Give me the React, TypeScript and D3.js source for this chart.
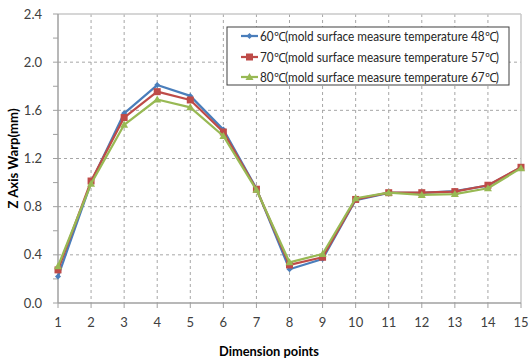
import React from "react";
import * as d3 from "d3";

const categories = [1, 2, 3, 4, 5, 6, 7, 8, 9, 10, 11, 12, 13, 14, 15];
const series60 = [0.22, 1.0, 1.575, 1.81, 1.72, 1.44, 0.95, 0.28, 0.365, 0.855, 0.915, 0.915, 0.93, 0.975, 1.125];
const series70 = [0.275, 1.013, 1.54, 1.755, 1.686, 1.42, 0.945, 0.316, 0.38, 0.86, 0.916, 0.916, 0.925, 0.978, 1.127];
const series80 = [0.305, 0.99, 1.48, 1.69, 1.625, 1.387, 0.94, 0.338, 0.407, 0.87, 0.916, 0.897, 0.905, 0.953, 1.12];
const yTicks = [0.0, 0.4, 0.8, 1.2, 1.6, 2.0, 2.4];
const yMinorTicks = [0.2, 0.6, 1.0, 1.4, 1.8, 2.2];
const legendLabels = [
  "60℃(mold surface measure temperature 48℃)",
  "70℃(mold surface measure temperature 57℃)",
  "80℃(mold surface measure temperature 67℃)",
];
const xTitle = "Dimension points";
const yTitle = "Z Axis Warp(mm)";

const W = 529;
const H = 361;
const L = 58;
const R = 521;
const T = 14;
const B = 303;
const FONT = "Lato, 'Open Sans', sans-serif";

const colors = ["#4A7EBB", "#BE4B48", "#98B954"];
const seriesList = [series60, series70, series80];

function Marker({ kind, x, y, color }: { kind: number; x: number; y: number; color: string }) {
  if (kind === 0) {
    const s = 3;
    return <path d={`M${x},${y - s}L${x + s},${y}L${x},${y + s}L${x - s},${y}Z`} fill={color} />;
  }
  if (kind === 1) {
    return <rect x={x - 3.5} y={y - 3.5} width={7} height={7} fill={color} />;
  }
  const s = 4;
  return <path d={`M${x},${y - s}L${x + s},${y + s * 0.75}L${x - s},${y + s * 0.75}Z`} fill={color} />;
}

export default function App() {
  const x = d3.scaleLinear().domain([1, 15]).range([L, R]);
  const y = d3.scaleLinear().domain([0, 2.4]).range([B, T]);
  const line = d3
    .line<number>()
    .x((_, i) => x(categories[i]))
    .y((d) => y(d));

  const lx = 227;
  const ly = 27;
  const lw = 282;
  const lh = 58;
  const rowY = [36, 57, 77];

  return (
    <svg
      width={W}
      height={H}
      style={{ position: "absolute", left: 0, top: 0, background: "#fff" }}
      fontFamily={FONT}
    >
      {/* grid */}
      {yTicks.slice(1, -1).map((t) => (
        <line key={"gy" + t} x1={L} x2={R} y1={y(t)} y2={y(t)} stroke="#A6A6A6" strokeWidth={1} strokeDasharray="3,3" />
      ))}
      {categories.slice(1, -1).map((c) => (
        <line key={"gx" + c} x1={x(c)} x2={x(c)} y1={T} y2={B} stroke="#A6A6A6" strokeWidth={1} strokeDasharray="3,3" />
      ))}
      {/* border */}
      <line x1={L} x2={R} y1={T} y2={T} stroke="#C8C8C8" strokeWidth={1.5} />
      <line x1={R} x2={R} y1={T} y2={B} stroke="#C8C8C8" strokeWidth={1.5} />
      {/* axes */}
      <line x1={L} x2={L} y1={T} y2={B} stroke="#A0A0A0" strokeWidth={1.5} />
      <line x1={L} x2={R} y1={B} y2={B} stroke="#A0A0A0" strokeWidth={1.5} />
      {yTicks.map((t) => (
        <line key={"ty" + t} x1={L - 5} x2={L} y1={y(t)} y2={y(t)} stroke="#A0A0A0" strokeWidth={1} />
      ))}
      {yMinorTicks.map((t) => (
        <line key={"tm" + t} x1={L - 5} x2={L} y1={y(t)} y2={y(t)} stroke="#A0A0A0" strokeWidth={1} />
      ))}
      {categories.map((c) => (
        <line key={"tx" + c} x1={x(c)} x2={x(c)} y1={B} y2={B + 5} stroke="#A0A0A0" strokeWidth={1} />
      ))}
      {yTicks.map((t) => (
        <text key={"ly" + t} x={42} y={y(t)} dy="0.35em" textAnchor="end" fontSize={13} fill="#404040">
          {t.toFixed(1)}
        </text>
      ))}
      {categories.map((c) => (
        <text key={"lx" + c} x={x(c)} y={327} textAnchor="middle" fontSize={13} fill="#404040">
          {c}
        </text>
      ))}
      {/* series */}
      {seriesList.map((s, k) => (
        <g key={"s" + k}>
          <path d={line(s) || ""} fill="none" stroke={colors[k]} strokeWidth={2.25} strokeLinejoin="round" />
          {s.map((v, i) => (
            <Marker key={i} kind={k} x={x(categories[i])} y={y(v)} color={colors[k]} />
          ))}
        </g>
      ))}
      {/* legend */}
      <rect x={lx} y={ly} width={lw} height={lh} fill="#fff" stroke="#404040" strokeWidth={1} />
      {legendLabels.map((lab, k) => (
        <g key={"lg" + k}>
          <line x1={241} x2={258} y1={rowY[k]} y2={rowY[k]} stroke={colors[k]} strokeWidth={2.25} />
          <Marker kind={k} x={249.5} y={rowY[k]} color={colors[k]} />
          <text
            x={260}
            y={rowY[k]}
            dy="0.38em"
            fontSize={12.5}
            fill="#262626"
            textLength={239}
            lengthAdjust="spacingAndGlyphs"
          >
            {lab}
          </text>
        </g>
      ))}
      {/* titles */}
      <text
        x={269}
        y={356}
        textAnchor="middle"
        fontSize={13}
        fontWeight="bold"
        fill="#000"
        textLength={100}
        lengthAdjust="spacingAndGlyphs"
      >
        {xTitle}
      </text>
      <text
        transform={`translate(18,${(T + B) / 2}) rotate(-90)`}
        textAnchor="middle"
        fontSize={13}
        fontWeight="bold"
        fill="#000"
        textLength={100}
        lengthAdjust="spacingAndGlyphs"
      >
        {yTitle}
      </text>
    </svg>
  );
}
